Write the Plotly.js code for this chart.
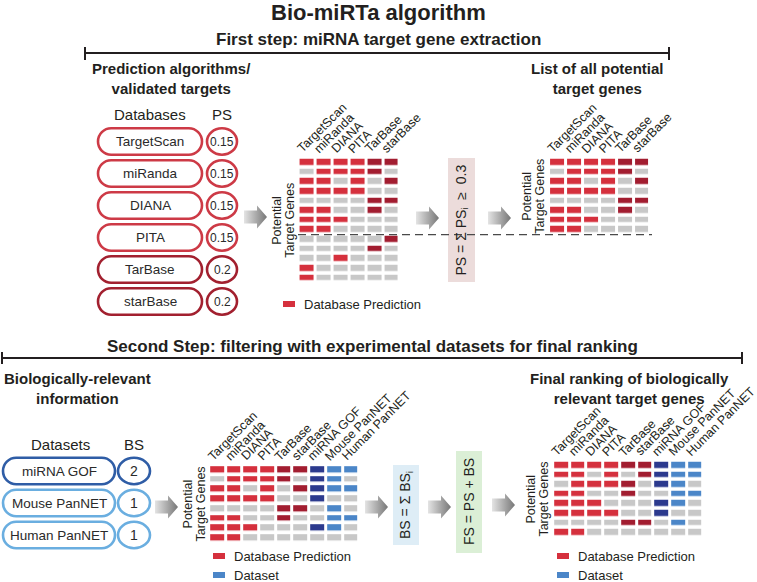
<!DOCTYPE html>
<html><head><meta charset="utf-8">
<script src="https://cdn.plot.ly/plotly-3.0.1.min.js"></script>
<style>html,body{margin:0;padding:0;background:#fff}#chart{width:757px;height:582px}</style>
</head><body><div id="chart"></div>
<script>
// ---------------- DATA ----------------
const databases = ["TargetScan", "miRanda", "DIANA", "PITA", "TarBase", "starBase"];
const psWeights = [0.15, 0.15, 0.15, 0.15, 0.2, 0.2];
const datasets = ["miRNA GOF", "Mouse PanNET", "Human PanNET"];
const bsWeights = [2, 1, 1];
const psThreshold = 0.3;
// candidate target genes (rows) x databases (cols): 1 = predicted
const predictions = [
  [1, 1, 1, 1, 1, 1],
  [0, 1, 1, 1, 1, 0],
  [1, 1, 0, 1, 0, 1],
  [1, 1, 1, 1, 0, 0],
  [0, 0, 0, 0, 1, 1],
  [1, 1, 0, 0, 1, 0],
  [1, 1, 1, 0, 0, 0],
  [1, 1, 0, 0, 0, 0],
  [0, 0, 0, 0, 0, 1],
  [0, 0, 0, 0, 1, 0],
  [0, 0, 1, 0, 0, 0],
  [1, 0, 0, 0, 0, 0],
  [1, 0, 0, 0, 0, 0]
];
// retained genes x datasets: 1 = supported by dataset
const datasetHits = [
  [1, 1, 1],
  [1, 1, 0],
  [1, 1, 1],
  [1, 0, 0],
  [0, 1, 0],
  [0, 1, 1],
  [1, 1, 0],
  [0, 0, 0]
];
// order of retained genes in final ranking
const finalOrder = [0, 2, 1, 5, 6, 3, 4, 7];

// ---------------- STYLE ----------------
const FONT = '"Liberation Sans", Arial, Helvetica, sans-serif';
const TXT = '#231f20';
const cellColors = ['#c8c8c8', '#d5303d', '#a21d30', '#2c3a8e', '#4b86c8'];
const dbColorCode = [1, 1, 1, 1, 2, 2];
const dsColorCode = [3, 4, 4];
const pillColorsDb = ['#cd3a46', '#cd3a46', '#cd3a46', '#cd3a46', '#a2202f', '#a2202f'];
const pillColorsDs = ['#2f5da6', '#6aaee0', '#6aaee0'];
const cs = [];
cellColors.forEach((c, i) => {
  const a = Math.max(0, (i - 0.5) / 4), b = Math.min(1, (i + 0.5) / 4);
  cs.push([a, c]); cs.push([b, c]);
});

// ---------------- DERIVED MATRICES ----------------
const psScores = predictions.map(r => r.reduce((s, v, j) => s + v * psWeights[j], 0));
const keep = predictions.map((r, i) => i).filter(i => psScores[i] >= psThreshold - 1e-9);
const z1 = predictions.map(r => r.map((v, j) => v ? dbColorCode[j] : 0));
const z2 = keep.map(i => z1[i]);
const z3 = keep.map((i, k) => z1[i].concat(datasetHits[k].map((v, j) => v ? dsColorCode[j] : 0)));
const z4 = finalOrder.map(k => z3[k]);
const allLabels = databases.concat(datasets);

const traces = [];
const annotations = [];
const shapes = [];

function ann(x, y, text, size, opts) {
  annotations.push(Object.assign({
    x: x, y: y, xref: 'x', yref: 'y', text: text, showarrow: false,
    font: {family: FONT, size: size, color: TXT}, xanchor: 'center', yanchor: 'middle'
  }, opts || {}));
}

function heat(z, labels, x0, dx, y0, dy, labelCx, legendX, legendY, withDataset) {
  traces.push({
    type: 'heatmap', z: z, x0: x0, dx: dx, y0: y0, dy: dy, xgap: 3, ygap: 3.7,
    zmin: 0, zmax: 4, colorscale: cs, showscale: false, hoverinfo: 'skip'
  });
  const rowTop = y0 - dy / 2 + 1.85;
  const nRows = z.length;
  labels.forEach((lab, j) => {
    const colLeft = x0 + j * dx - dx / 2 + 1.5;
    ann(colLeft + 4 - 12, rowTop - 1, lab, 12.5,
      {textangle: -45, xanchor: 'left', yanchor: 'bottom'});
  });
  const cy = y0 + (nRows - 1) * dy / 2;
  ann(labelCx - 6.5, cy, 'Potential', 12.5, {textangle: -90});
  ann(labelCx + 6.5, cy, 'Target Genes', 12.5, {textangle: -90});
  if (legendX !== null) {
    shapes.push({type: 'rect', xref: 'x', yref: 'y', x0: legendX, x1: legendX + 12,
      y0: legendY - 3, y1: legendY + 3, fillcolor: cellColors[1], line: {width: 0}});
    ann(legendX + 19, legendY, 'Database Prediction', 13, {xanchor: 'left'});
    if (withDataset) {
      shapes.push({type: 'rect', xref: 'x', yref: 'y', x0: legendX, x1: legendX + 12,
        y0: legendY + 16, y1: legendY + 22, fillcolor: cellColors[4], line: {width: 0}});
      ann(legendX + 19, legendY + 19, 'Dataset', 13, {xanchor: 'left'});
    }
  }
}

heat(z1, databases, 307, 16.9, 162.5, 9.63, 284, 283, 304, false);
heat(z2, databases, 557.5, 16.9, 162.5, 9.63, 534, null, null, false);
heat(z3, allLabels, 217.5, 16.7, 470, 9.7, 194, 213, 556, true);
heat(z4, allLabels, 561.5, 16.7, 465.5, 9.6, 538, 557, 556, true);

// ---------------- PILLS ----------------
function pillPath(x0, x1, y0, y1) {
  const r = (y1 - y0) / 2, k = 0.5523 * r, a = x0 + r, b = x1 - r, m = (y0 + y1) / 2;
  return `M${a},${y0} L${b},${y0} C${b + k},${y0} ${x1},${m - k} ${x1},${m} ` +
    `C${x1},${m + k} ${b + k},${y1} ${b},${y1} L${a},${y1} C${a - k},${y1} ${x0},${m + k} ${x0},${m} ` +
    `C${x0},${m - k} ${a - k},${y0} ${a},${y0} Z`;
}
function pillRow(name, weight, color, yc, px0, px1, cx0, cx1, wsize) {
  shapes.push({type: 'path', xref: 'x', yref: 'y', path: pillPath(px0, px1, yc - 13.2, yc + 13.2),
    line: {color: color, width: 2.6}, fillcolor: 'rgba(0,0,0,0)'});
  shapes.push({type: 'circle', xref: 'x', yref: 'y', x0: cx0, x1: cx1, y0: yc - 13.2, y1: yc + 13.2,
    line: {color: color, width: 2.6}, fillcolor: 'rgba(0,0,0,0)'});
  ann((px0 + px1) / 2, yc, name, 13.5, {font: {family: FONT, size: 13.5, color: '#2a2a2a'}});
  ann((cx0 + cx1) / 2, yc, String(weight), wsize, {font: {family: FONT, size: wsize, color: '#2a2a2a'}});
}
databases.forEach((d, i) => pillRow(d, psWeights[i], pillColorsDb[i], 141.5 + i * 32, 98, 202, 207, 237, 12));
datasets.forEach((d, i) => pillRow(d, bsWeights[i], pillColorsDs[i], 471 + i * 32, 3, 115, 118, 150, 14));

// ---------------- BOXES ----------------
shapes.push({type: 'rect', xref: 'x', yref: 'y', x0: 448, x1: 475, y0: 158, y1: 282, fillcolor: '#ecdcdb', line: {width: 0}, layer: 'below'});
ann(461.5, 220, 'PS = \u03a3 PS<sub>i</sub>\u00a0\u00a0\u2265\u00a0\u00a00.3', 14, {textangle: -90});
shapes.push({type: 'rect', xref: 'x', yref: 'y', x0: 393, x1: 419, y0: 465, y1: 545, fillcolor: '#deedf6', line: {width: 0}, layer: 'below'});
ann(406, 505, 'BS = \u03a3 BS<sub>i</sub>', 14, {textangle: -90});
shapes.push({type: 'rect', xref: 'x', yref: 'y', x0: 456, x1: 482, y0: 451, y1: 553, fillcolor: '#dbefd6', line: {width: 0}, layer: 'below'});
ann(469, 502, 'FS = PS + BS', 14, {textangle: -90});

// ---------------- ARROWS ----------------
function arrow(x, yc) {
  traces.push({
    type: 'scatter', mode: 'lines', line: {width: 0, color: 'rgba(0,0,0,0)'},
    x: [x, x + 13, x + 13, x + 23, x + 13, x + 13, x, x],
    y: [yc - 6.5, yc - 6.5, yc - 11.5, yc, yc + 11.5, yc + 6.5, yc + 6.5, yc - 6.5],
    fill: 'toself', fillcolor: '#9a9a9a',
    fillgradient: {type: 'horizontal', colorscale: [[0, '#e4e4e4'], [1, '#767676']]},
    hoverinfo: 'skip', showlegend: false
  });
}
arrow(244, 217); arrow(416, 218); arrow(488, 218);
arrow(155, 507); arrow(365, 507); arrow(428, 507); arrow(492, 505);

// ---------------- LINES ----------------
const dark = {color: TXT, width: 2};
function seg(x0, y0, x1, y1, line) { shapes.push({type: 'line', xref: 'x', yref: 'y', x0, y0, x1, y1, line}); }
seg(85, 53, 669, 53, dark); seg(85, 47, 85, 60, dark); seg(669, 47, 669, 60, dark);
seg(2, 358, 742, 358, dark); seg(2, 352, 2, 364, dark); seg(742, 352, 742, 364, dark);
seg(298, 234.7, 652, 234.7, {color: '#4a4a4a', width: 1.3, dash: '8px,5px'});

// ---------------- HEADINGS ----------------
ann(378.5, 12, '<b>Bio-miRTa algorithm</b>', 22);
ann(378, 39, '<b>First step: miRNA target gene extraction</b>', 17);
ann(171, 78, '<b>Prediction algorithms/<br>validated targets</b>', 15);
ann(597, 78, '<b>List of all potential<br>target genes</b>', 15);
ann(150, 114, 'Databases', 15);
ann(222, 114, 'PS', 15);
ann(372, 346, '<b>Second Step: filtering with experimental datasets for final ranking</b>', 17);
ann(77.5, 388, '<b>Biologically-relevant<br>information</b>', 15);
ann(629, 388, '<b>Final ranking of biologically<br>relevant target genes</b>', 15);
ann(60, 444, 'Datasets', 15);
ann(134, 444, 'BS', 15);

const layout = {
  width: 757, height: 582, margin: {l: 0, r: 0, t: 0, b: 0},
  paper_bgcolor: '#ffffff', plot_bgcolor: '#ffffff',
  font: {family: FONT, color: TXT},
  showlegend: false, hovermode: false,
  xaxis: {range: [0, 757], visible: false, fixedrange: true},
  yaxis: {range: [582, 0], visible: false, fixedrange: true},
  shapes: shapes, annotations: annotations
};
Plotly.newPlot('chart', traces, layout, {displayModeBar: false, staticPlot: true});
</script>
</body></html>
